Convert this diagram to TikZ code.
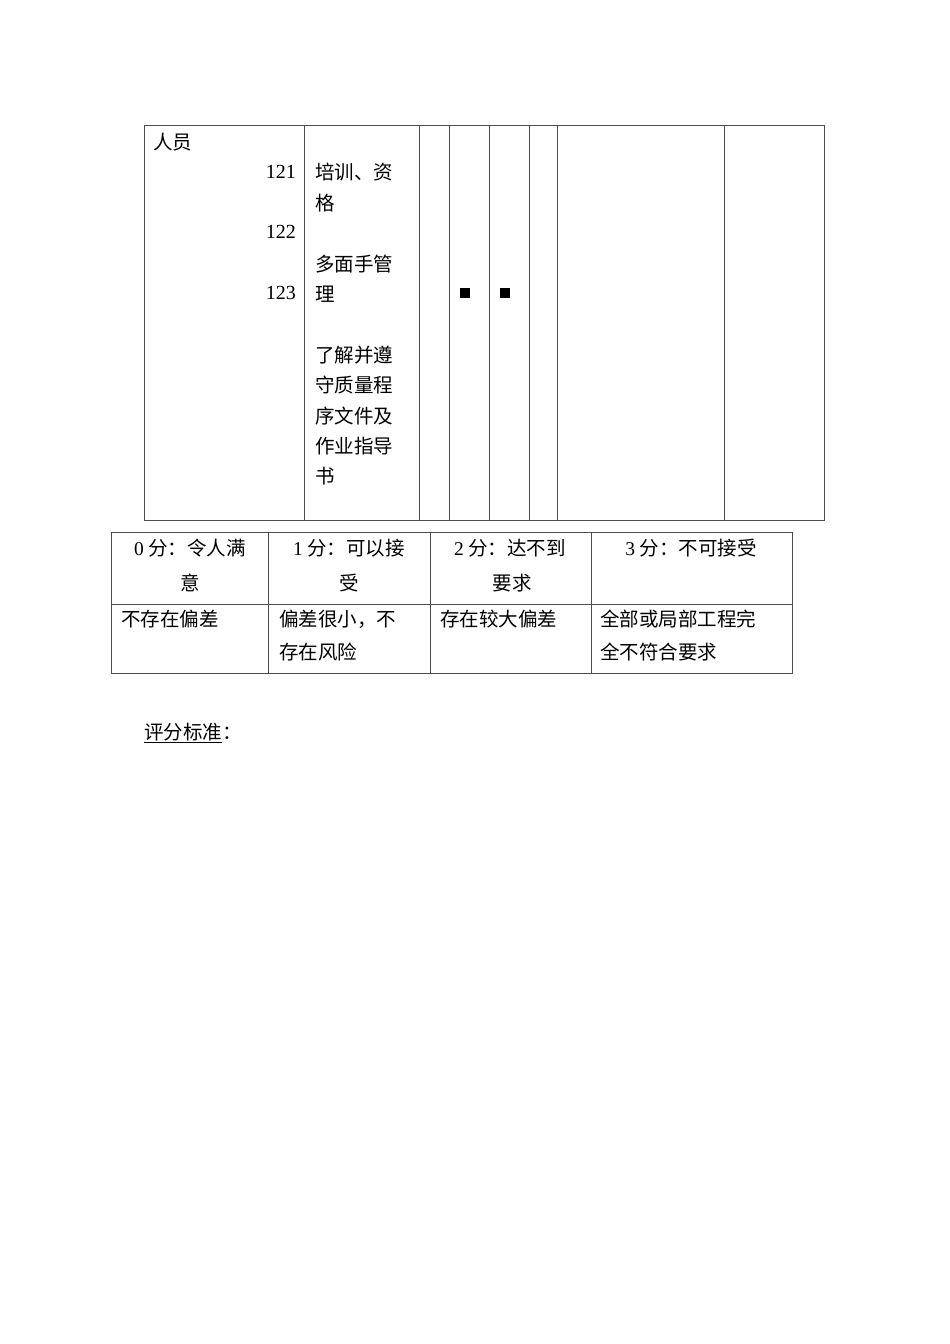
\documentclass[tikz,border=0pt]{standalone}
\usepackage{fontspec}
\setmainfont{Liberation Serif}
\newfontfamily\cjk{Noto Sans CJK SC}
\newcommand{\dg}[1]{{\fontspec{Liberation Serif}#1}}
\begin{document}
\begin{tikzpicture}[x=1pt,y=-1pt,
  tl/.style={line width=0.7pt,draw=black!70},
  tx/.style={inner sep=0pt,font=\cjk\fontsize{19.5}{22}\selectfont},
  nm/.style={inner sep=0pt,font=\fontsize{20}{22}\selectfont}]
\useasboundingbox (0,0) rectangle (950,1344);
% top table
\draw[tl] (144,125) rectangle (824,520);
\foreach \x in {304,419,449,489,529,557,724} \draw[tl] (\x,125) -- (\x,520);
\node[tx,anchor=west] (ry) at (153,142) {人员};
\node[nm,anchor=east] (n1) at (296,172) {121};
\node[nm,anchor=east] (n2) at (296,232) {122};
\node[nm,anchor=east] (n3) at (296,293) {123};
\foreach \t/\y [count=\i] in {培训、资/172,格/203,多面手管/264,理/294,了解并遵/355,守质量程/385,序文件及/416,作业指导/446,书/476}
  \node[tx,anchor=west] (c\i) at (315,\y) {\t};
\node[fill=black,minimum size=10pt,inner sep=0pt] (s1) at (465,293) {};
\node[fill=black,minimum size=10pt,inner sep=0pt] (s2) at (505,293) {};
% bottom table
\draw[tl] (111,532) rectangle (792,673);
\draw[tl] (111,604) -- (792,604);
\foreach \x in {268,430,591} \draw[tl] (\x,532) -- (\x,673);
\node[tx] (h0) at (190,548) {\dg{0} 分：令人满};
\node[tx] (h0b) at (190,583) {意};
\node[tx] (h1) at (349,548) {\dg{1} 分：可以接};
\node[tx] (h1b) at (349,583) {受};
\node[tx] (h2) at (510,548) {\dg{2} 分：达不到};
\node[tx] (h2b) at (512,583) {要求};
\node[tx] (h3) at (691,548) {\dg{3} 分：不可接受};
\node[tx,anchor=west] (r0) at (121,619) {不存在偏差};
\node[tx,anchor=west] (r1) at (279,619) {偏差很小，不};
\node[tx,anchor=west] (r1b) at (279,652) {存在风险};
\node[tx,anchor=west] (r2) at (440,619) {存在较大偏差};
\node[tx,anchor=west] (r3) at (600,619) {全部或局部工程完};
\node[tx,anchor=west] (r3b) at (600,652) {全不符合要求};
\node[tx,anchor=west] (ps) at (144,733) {\underline{评分标准}：};
\end{tikzpicture}
\end{document}
